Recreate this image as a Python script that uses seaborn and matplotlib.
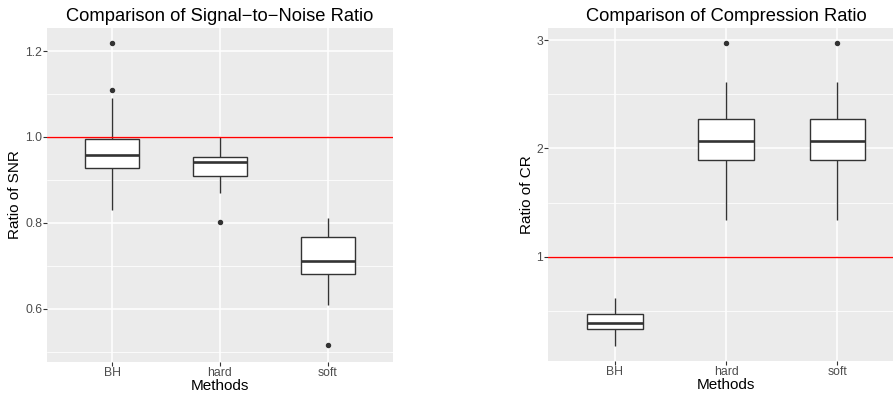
import numpy as np
import pandas as pd
import matplotlib
matplotlib.use("Agg")
import matplotlib.pyplot as plt
from matplotlib.ticker import FixedLocator
import seaborn as sns

# ---- data ----
methods = ["BH", "hard", "soft"]

snr_bh = [0.831, 0.88, 0.91, 0.927, 0.94, 0.95, 0.959, 0.97, 0.985, 0.995, 1.090, 1.110, 1.219]
snr_hard = [0.802, 0.869, 0.89, 0.909, 0.92, 0.93, 0.941, 0.945, 0.95, 0.953, 0.97, 0.985, 1.000]
snr_soft = [0.515, 0.609, 0.65, 0.681, 0.69, 0.70, 0.712, 0.73, 0.75, 0.768, 0.78, 0.80, 0.812]

cr_bh = [0.183, 0.25, 0.30, 0.336, 0.36, 0.38, 0.395, 0.42, 0.45, 0.475, 0.52, 0.58, 0.625]
cr_hard = [1.338, 1.55, 1.75, 1.891, 1.95, 2.01, 2.066, 2.13, 2.20, 2.272, 2.40, 2.610, 2.975]
cr_soft = [1.338, 1.55, 1.75, 1.891, 1.95, 2.01, 2.066, 2.13, 2.20, 2.272, 2.40, 2.610, 2.975]

snr_ticks = [0.6, 0.8, 1.0, 1.2]
snr_minor = [0.5, 0.7, 0.9, 1.1]
cr_ticks = [1, 2, 3]
cr_minor = [0.5, 1.5, 2.5]
reference_value = 1.0

titles = ["Comparison of Signal\u2212to\u2212Noise Ratio", "Comparison of Compression Ratio"]
ylabels = ["Ratio of SNR", "Ratio of CR"]
xlabel = "Methods"


def long_df(groups):
    rows = []
    for m, vals in zip(methods, groups):
        for v in vals:
            rows.append({"method": m, "value": v})
    return pd.DataFrame(rows)


df_snr = long_df([snr_bh, snr_hard, snr_soft])
df_cr = long_df([cr_bh, cr_hard, cr_soft])

sns.set_theme(style="darkgrid")
plt.rcParams["font.family"] = ["Liberation Sans", "DejaVu Sans"]

fig = plt.figure(figsize=(8.93, 3.94), dpi=100)
W, H = 893, 394
ax1 = fig.add_axes([47.3 / W, 1 - 361.7 / H, (392.7 - 47.3) / W, (361.7 - 28.3) / H])
ax2 = fig.add_axes([548.3 / W, 1 - 361.0 / H, (904.0 - 548.3) / W, (361.0 - 28.3) / H])

dark = "#333333"


def draw(ax, df, ylim, ticks, minor, title, ylabel):
    ax.set_facecolor("#EBEBEB")
    sns.boxplot(
        data=df, x="method", y="value", order=methods, ax=ax,
        width=0.5, color="white", saturation=1, linecolor=dark, linewidth=1.0,
        showcaps=False,
        flierprops=dict(marker="o", markerfacecolor=dark, markeredgecolor=dark,
                        markersize=2.9),
        medianprops=dict(color=dark, linewidth=1.9),
    )
    ax.axhline(reference_value, color="#FF0000", linewidth=1.0, zorder=5)
    ax.set_xlim(-0.6, 2.6)
    ax.set_ylim(*ylim)
    ax.yaxis.set_major_locator(FixedLocator(ticks))
    ax.yaxis.set_minor_locator(FixedLocator(minor))
    ax.set_yticklabels([f"{t:g}" if isinstance(t, int) else f"{t:.1f}" for t in ticks])
    ax.grid(which="major", color="white", linewidth=1.1)
    ax.grid(which="minor", axis="y", color="white", linewidth=0.55)
    ax.grid(which="minor", axis="x", visible=False)
    ax.set_axisbelow(True)
    for s in ax.spines.values():
        s.set_visible(False)
    ax.tick_params(which="major", length=2.75, width=0.8, color=dark,
                   labelcolor="#4D4D4D", labelsize=8.8, pad=1.0,
                   left=True, bottom=True)
    ax.tick_params(which="minor", length=0)
    ax.set_title(title, fontsize=13.2, color="black", pad=5)
    ax.set_xlabel(xlabel, fontsize=11, color="black", labelpad=0)
    ax.set_ylabel(ylabel, fontsize=11, color="black", labelpad=2)


draw(ax1, df_snr, (0.477, 1.253), snr_ticks, snr_minor, titles[0], ylabels[0])
draw(ax2, df_cr, (0.041, 3.108), cr_ticks, cr_minor, titles[1], ylabels[1])

fig.savefig("out.png", dpi=100)
